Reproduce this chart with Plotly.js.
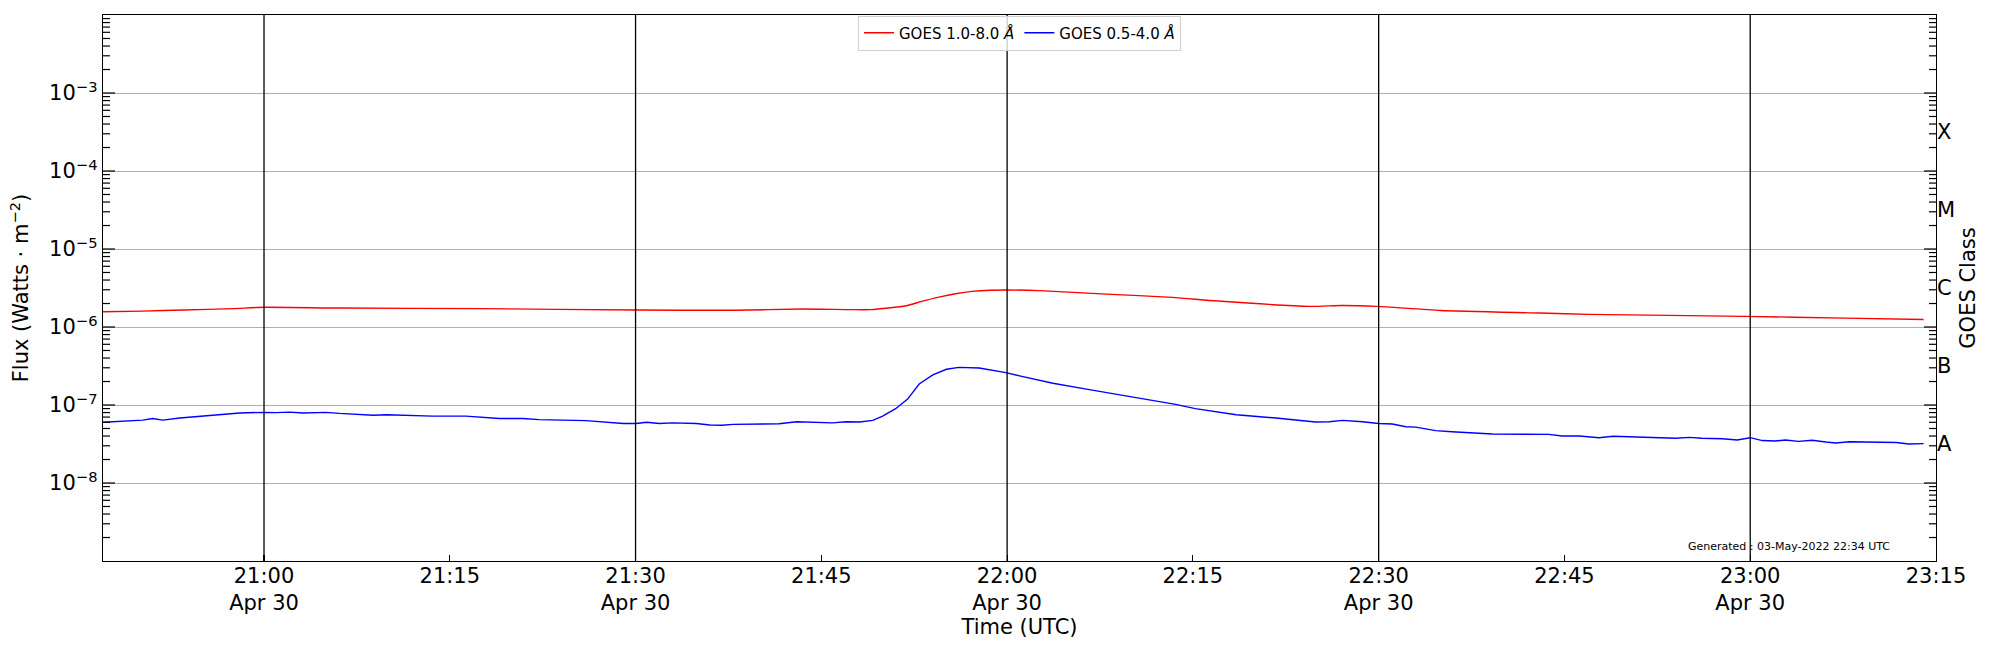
<!DOCTYPE html>
<html>
<head>
<meta charset="utf-8">
<script src="https://cdn.plot.ly/plotly-3.0.1.min.js"></script>
<style>
  html, body { margin: 0; padding: 0; background: #fff; }
  #chart { width: 2000px; height: 650px; }
</style>
</head>
<body>
<div id="chart"></div>
<script>
// GOES 1.0-8.0 A channel
const xrsbTime = [
  "2022-04-30 20:47:00", "2022-04-30 20:50:12", "2022-04-30 20:53:30", "2022-04-30 20:57:30",
  "2022-04-30 21:00:00", "2022-04-30 21:06:00", "2022-04-30 21:17:30", "2022-04-30 21:30:00",
  "2022-04-30 21:38:00", "2022-04-30 21:43:30", "2022-04-30 21:47:20", "2022-04-30 21:49:00",
  "2022-04-30 21:51:50", "2022-04-30 21:53:06", "2022-04-30 21:54:30", "2022-04-30 21:55:50",
  "2022-04-30 21:57:10", "2022-04-30 21:58:36", "2022-04-30 22:00:00", "2022-04-30 22:02:36",
  "2022-04-30 22:08:00", "2022-04-30 22:13:20", "2022-04-30 22:17:00", "2022-04-30 22:24:24",
  "2022-04-30 22:27:00", "2022-04-30 22:29:50", "2022-04-30 22:35:00", "2022-04-30 22:43:00",
  "2022-04-30 22:47:00", "2022-04-30 22:59:36", "2022-04-30 23:07:40", "2022-04-30 23:14:00"
];
const xrsbFlux = [
  1.57e-6, 1.60e-6, 1.65e-6, 1.72e-6,
  1.79e-6, 1.75e-6, 1.72e-6, 1.65e-6,
  1.64e-6, 1.70e-6, 1.67e-6, 1.67e-6,
  1.87e-6, 2.13e-6, 2.42e-6, 2.67e-6,
  2.86e-6, 2.96e-6, 2.98e-6, 2.93e-6,
  2.64e-6, 2.40e-6, 2.15e-6, 1.84e-6,
  1.89e-6, 1.84e-6, 1.63e-6, 1.51e-6,
  1.45e-6, 1.37e-6, 1.30e-6, 1.25e-6
];

// GOES 0.5-4.0 A channel
const xrsaTime = [
  "2022-04-30 20:47:00", "2022-04-30 20:48:54", "2022-04-30 20:50:12", "2022-04-30 20:51:00",
  "2022-04-30 20:51:50", "2022-04-30 20:53:12", "2022-04-30 20:54:48", "2022-04-30 20:56:10",
  "2022-04-30 20:58:02", "2022-04-30 21:00:00", "2022-04-30 21:01:00", "2022-04-30 21:02:04",
  "2022-04-30 21:03:09", "2022-04-30 21:05:00", "2022-04-30 21:06:06", "2022-04-30 21:08:48",
  "2022-04-30 21:09:54", "2022-04-30 21:13:36", "2022-04-30 21:16:18", "2022-04-30 21:19:00",
  "2022-04-30 21:20:54", "2022-04-30 21:22:12", "2022-04-30 21:23:54", "2022-04-30 21:26:00",
  "2022-04-30 21:29:00", "2022-04-30 21:30:03", "2022-04-30 21:30:54", "2022-04-30 21:31:54",
  "2022-04-30 21:33:00", "2022-04-30 21:34:54", "2022-04-30 21:36:00", "2022-04-30 21:37:00",
  "2022-04-30 21:37:51", "2022-04-30 21:40:00", "2022-04-30 21:41:36", "2022-04-30 21:43:00",
  "2022-04-30 21:44:00", "2022-04-30 21:44:48", "2022-04-30 21:45:54", "2022-04-30 21:47:00",
  "2022-04-30 21:48:06", "2022-04-30 21:49:09", "2022-04-30 21:49:57", "2022-04-30 21:51:00",
  "2022-04-30 21:51:58", "2022-04-30 21:52:54", "2022-04-30 21:54:00", "2022-04-30 21:55:06",
  "2022-04-30 21:56:06", "2022-04-30 21:57:45", "2022-04-30 21:58:48", "2022-04-30 21:59:54",
  "2022-04-30 22:01:00", "2022-04-30 22:03:42", "2022-04-30 22:06:24", "2022-04-30 22:09:03",
  "2022-04-30 22:11:45", "2022-04-30 22:13:36", "2022-04-30 22:15:12", "2022-04-30 22:17:06",
  "2022-04-30 22:18:30", "2022-04-30 22:21:42", "2022-04-30 22:23:18", "2022-04-30 22:24:54",
  "2022-04-30 22:26:00", "2022-04-30 22:27:06", "2022-04-30 22:28:42", "2022-04-30 22:30:00",
  "2022-04-30 22:31:06", "2022-04-30 22:32:12", "2022-04-30 22:33:00", "2022-04-30 22:34:36",
  "2022-04-30 22:35:54", "2022-04-30 22:38:06", "2022-04-30 22:39:12", "2022-04-30 22:43:45",
  "2022-04-30 22:44:48", "2022-04-30 22:46:12", "2022-04-30 22:47:48", "2022-04-30 22:48:54",
  "2022-04-30 22:50:12", "2022-04-30 22:51:48", "2022-04-30 22:52:54", "2022-04-30 22:54:00",
  "2022-04-30 22:55:06", "2022-04-30 22:56:06", "2022-04-30 22:57:45", "2022-04-30 22:58:57",
  "2022-04-30 23:00:00", "2022-04-30 23:00:58", "2022-04-30 23:02:00", "2022-04-30 23:02:51",
  "2022-04-30 23:03:54", "2022-04-30 23:05:00", "2022-04-30 23:06:06", "2022-04-30 23:06:54",
  "2022-04-30 23:08:00", "2022-04-30 23:11:48", "2022-04-30 23:12:48", "2022-04-30 23:14:00"
];
const xrsaFlux = [
  6.0e-8, 6.3e-8, 6.4e-8, 6.7e-8,
  6.4e-8, 6.8e-8, 7.1e-8, 7.5e-8,
  7.9e-8, 8.05e-8, 7.98e-8, 8.1e-8,
  7.9e-8, 8.05e-8, 7.8e-8, 7.4e-8,
  7.5e-8, 7.2e-8, 7.2e-8, 6.7e-8,
  6.7e-8, 6.5e-8, 6.4e-8, 6.3e-8,
  5.8e-8, 5.8e-8, 6.0e-8, 5.8e-8,
  5.9e-8, 5.8e-8, 5.55e-8, 5.5e-8,
  5.65e-8, 5.65e-8, 5.75e-8, 6.1e-8,
  6.0e-8, 6.05e-8, 5.9e-8, 6.1e-8,
  6.05e-8, 6.35e-8, 7.2e-8, 8.97e-8,
  1.19e-7, 1.86e-7, 2.43e-7, 2.87e-7,
  3.04e-7, 2.98e-7, 2.81e-7, 2.6e-7,
  2.36e-7, 1.90e-7, 1.60e-7, 1.36e-7,
  1.15e-7, 1.02e-7, 8.97e-8, 8.13e-8,
  7.5e-8, 6.8e-8, 6.35e-8, 6.05e-8,
  6.1e-8, 6.35e-8, 6.1e-8, 5.8e-8,
  5.7e-8, 5.27e-8, 5.2e-8, 4.69e-8,
  4.55e-8, 4.38e-8, 4.25e-8, 4.2e-8,
  4.0e-8, 4.0e-8, 3.81e-8, 3.97e-8,
  3.93e-8, 3.81e-8, 3.85e-8, 3.75e-8,
  3.85e-8, 3.75e-8, 3.7e-8, 3.56e-8,
  3.81e-8, 3.5e-8, 3.45e-8, 3.56e-8,
  3.42e-8, 3.53e-8, 3.35e-8, 3.26e-8,
  3.38e-8, 3.3e-8, 3.16e-8, 3.2e-8
];

const xTickVals = [
  "2022-04-30 21:00", "2022-04-30 21:15", "2022-04-30 21:30", "2022-04-30 21:45",
  "2022-04-30 22:00", "2022-04-30 22:15", "2022-04-30 22:30", "2022-04-30 22:45",
  "2022-04-30 23:00", "2022-04-30 23:15"
];
const xTickText = [
  "21:00<br>Apr 30", "21:15", "21:30<br>Apr 30", "21:45",
  "22:00<br>Apr 30", "22:15", "22:30<br>Apr 30", "22:45",
  "23:00<br>Apr 30", "23:15"
];
const markerTimes = [
  "2022-04-30 21:00", "2022-04-30 21:30", "2022-04-30 22:00",
  "2022-04-30 22:30", "2022-04-30 23:00"
];
const fluxTickVals = [1e-8, 1e-7, 1e-6, 1e-5, 1e-4, 1e-3];
const fluxTickText = ["10<sup>−8</sup>", "10<sup>−7</sup>", "10<sup>−6</sup>",
                      "10<sup>−5</sup>", "10<sup>−4</sup>", "10<sup>−3</sup>"];
const decades = [1e-9, 1e-8, 1e-7, 1e-6, 1e-5, 1e-4, 1e-3];
const minorDigits = [2, 3, 4, 5, 6, 7, 8, 9];
const classVals = [Math.pow(10, -7.5), Math.pow(10, -6.5), Math.pow(10, -5.5),
                   Math.pow(10, -4.5), Math.pow(10, -3.5)];
const classText = ["A", "B", "C", "M", "X"];

const font = "DejaVu Sans, Liberation Sans, sans-serif";
const fluxRange = [-9, -2];
const W = 2000, H = 650;
const margin = {l: 103, r: 64, t: 15, b: 89};
const plotW = W - margin.l - margin.r;

const traces = [
  {
    type: "scatter", mode: "lines",
    name: "GOES 1.0-8.0 <i>Å</i>",
    x: xrsbTime, y: xrsbFlux,
    line: {color: "#ff0000", width: 1.4, shape: "spline", smoothing: 0.6},
  },
  {
    type: "scatter", mode: "lines",
    name: "GOES 0.5-4.0 <i>Å</i>",
    x: xrsaTime, y: xrsaFlux,
    line: {color: "#0000ff", width: 1.4},
  },
  {
    // invisible trace so the class axis gets drawn
    type: "scatter", mode: "lines",
    x: [xTickVals[0]], y: [classVals[0]],
    yaxis: "y2", showlegend: false, hoverinfo: "skip",
    line: {color: "rgba(0,0,0,0)"},
  },
];

// vertical black lines every 30 minutes
const shapes = markerTimes.map(t => ({
  type: "line", xref: "x", yref: "paper",
  x0: t, x1: t, y0: 0, y1: 1,
  line: {color: "#000000", width: 1.3},
  layer: "above",
}));

// inward y ticks on both sides (major + minor), placed on the flux axis scale
function yTick(v, len) {
  const p = (Math.log10(v) - fluxRange[0]) / (fluxRange[1] - fluxRange[0]);
  if (p <= 0 || p >= 1) return [];
  const f = len / plotW;
  const st = {type: "line", xref: "paper", yref: "paper", y0: p, y1: p,
              line: {color: "#000000", width: 1.2}, layer: "above"};
  return [Object.assign({x0: 0, x1: f}, st), Object.assign({x0: 1 - f, x1: 1}, st)];
}
decades.forEach(d => {
  shapes.push(...yTick(d, 12));
  minorDigits.forEach(k => shapes.push(...yTick(k * d, 7)));
});

const layout = {
  width: W,
  height: H,
  margin: margin,
  paper_bgcolor: "#ffffff",
  plot_bgcolor: "#ffffff",
  font: {family: font, color: "#000000", size: 21},
  showlegend: true,
  legend: {
    orientation: "h",
    x: 0.5, xanchor: "center",
    y: 0.999, yanchor: "top",
    bgcolor: "rgba(255,255,255,0.8)",
    bordercolor: "#d0d0d0", borderwidth: 1,
    itemwidth: 30,
    font: {family: font, size: 15},
  },
  xaxis: {
    type: "date",
    range: ["2022-04-30 20:47", "2022-04-30 23:15"],
    tickmode: "array",
    tickvals: xTickVals,
    ticktext: xTickText,
    ticks: "inside", ticklen: 6, tickwidth: 1.2, tickcolor: "#000000",
    ticklabelstandoff: -5,
    showgrid: false, zeroline: false,
    showline: true, mirror: true, linecolor: "#000000", linewidth: 1.3,
    tickfont: {family: font, size: 21},
    title: {text: "Time (UTC)", font: {family: font, size: 21}, standoff: 2},
  },
  yaxis: {
    type: "log",
    range: fluxRange,
    tickmode: "array",
    tickvals: fluxTickVals,
    ticktext: fluxTickText,
    ticks: "",
    showgrid: true, gridcolor: "#b0b0b0", gridwidth: 1,
    zeroline: false,
    showline: true, mirror: true, linecolor: "#000000", linewidth: 1.3,
    tickfont: {family: font, size: 21},
    title: {text: "Flux (Watts · m<sup>−2</sup>)", font: {family: font, size: 21}, standoff: 14},
  },
  yaxis2: {
    type: "log",
    range: fluxRange,
    overlaying: "y",
    anchor: "x",
    side: "right",
    tickmode: "array",
    tickvals: classVals,
    ticktext: classText,
    ticks: "",
    showgrid: false, zeroline: false, showline: false,
    tickfont: {family: font, size: 21},
    title: {text: "GOES Class", font: {family: font, size: 21}, standoff: 6},
  },
  shapes: shapes,
  annotations: [{
    xref: "paper", yref: "paper",
    x: 0.976, y: 0.026,
    xanchor: "right", yanchor: "middle",
    text: "Generated : 03-May-2022 22:34 UTC",
    showarrow: false,
    font: {family: font, size: 11, color: "#000000"},
  }],
};

Plotly.newPlot("chart", traces, layout, {displayModeBar: false, staticPlot: true});
</script>
</body>
</html>
